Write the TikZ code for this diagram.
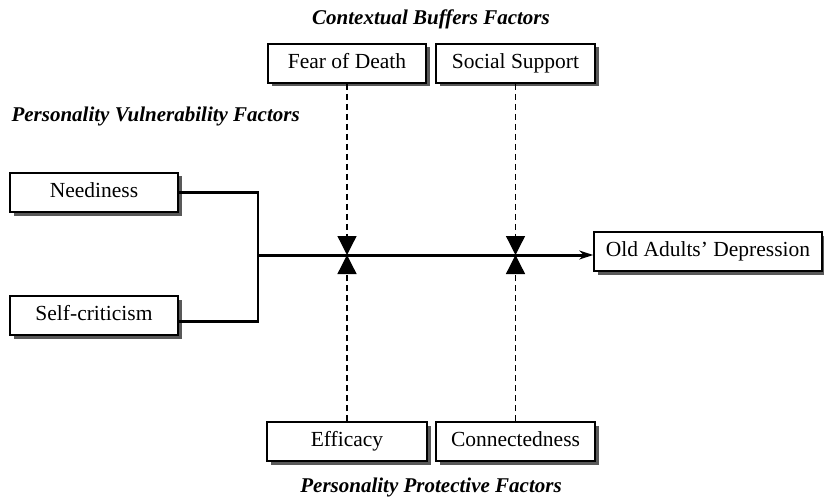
\documentclass[tikz,border=0pt]{standalone}
\usepackage{fontspec}
\setmainfont{Liberation Serif}
\usepackage{tikz}
\usetikzlibrary{positioning,shadows,arrows.meta}

\begin{document}
\begin{tikzpicture}[x=1pt, y=-1pt,
      font=\fontsize{21.5}{24}\selectfont,
      box/.style={draw, line width=1.7pt, fill=white, minimum height=39pt,
                  text height=14pt, text depth=4pt, inner sep=0pt,
                  drop shadow={shadow xshift=3.5pt, shadow yshift=-3.5pt, fill=black!65, opacity=1}},
      title/.style={font=\fontsize{21}{24}\selectfont\bfseries\itshape, anchor=base},
      conn/.style={line width=2.4pt},
      buf/.style={dash pattern=on 6pt off 4pt, line width=1.3pt, -{Triangle[width=19pt, length=19pt]}}]
      \useasboundingbox (0, 0) rectangle (824, 497);
      % titles
      \node[title] (ctx) at (431, 25) {Contextual Buffers Factors};
      \node[title, anchor=base west] (vul) at (8, 122) {Personality Vulnerability Factors};
      \node[title] (prot) at (431, 492) {Personality Protective Factors};
      % boxes
      \node[box, minimum width=158pt] (fear) at (347, 63.5) {Fear of Death};
      \node[box, minimum width=159pt] (social) at (515.5, 63.5) {Social Support};
      \node[box, minimum width=168pt] (need) at (94, 192.5) {Neediness};
      \node[box, minimum width=168pt] (selfcrit) at (94, 315.5) {Self-criticism};
      \node[box, minimum width=160pt] (eff) at (347, 441.5) {Efficacy};
      \node[box, minimum width=159pt] (conn) at (515.5, 441.5) {Connectedness};
      \node[box, minimum width=228pt] (dep) at (708, 251.5) {Old Adults' Depression};
      \coordinate (junc) at (258, 255);
      % connectors
      \draw[conn] (need.east) -| (junc);
      \draw[conn] ([yshift=-6pt]selfcrit.east) -| (junc);
      \draw[line width=3pt, -{Stealth[length=14pt, width=9pt]}] (junc) -- (junc -| dep.west);
      \draw[buf] (fear) -- (fear |- junc);
      \draw[buf] (social) -- (social |- junc);
      \draw[buf] (eff) -- (eff |- junc);
      \draw[buf] (conn) -- (conn |- junc);
\end{tikzpicture}
\end{document}
